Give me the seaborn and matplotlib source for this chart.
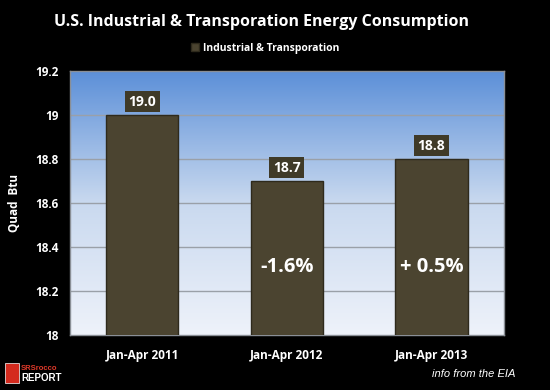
import matplotlib
matplotlib.use("Agg")
import matplotlib.pyplot as plt
import seaborn as sns
import numpy as np
import pandas as pd
from matplotlib.patches import Rectangle
from matplotlib.colors import LinearSegmentedColormap

categories = ["Jan-Apr 2011", "Jan-Apr 2012", "Jan-Apr 2013"]
values = [19.0, 18.7, 18.8]
value_labels = ["19.0", "18.7", "18.8"]
change_labels = ["", "-1.6%", "+ 0.5%"]
yticks = [18, 18.2, 18.4, 18.6, 18.8, 19, 19.2]
ytick_labels = ["18", "18.2", "18.4", "18.6", "18.8", "19", "19.2"]
series_name = "Industrial & Transporation"

sns.set_theme(style="white")
plt.rcParams['font.family'] = ['Open Sans', 'DejaVu Sans']

df = pd.DataFrame({"period": categories, "value": values})

fig = plt.figure(figsize=(5.5, 3.9), dpi=100, facecolor="black")
ax = fig.add_axes([0.127, 0.141, 0.789, 0.677])
ax.set_facecolor("white")

# gradient background
grad = np.linspace(0, 1, 256).reshape(-1, 1)
cmap = LinearSegmentedColormap.from_list("bg", ["#eef2fa", "#c9d9ef", "#5b8fd8"])
ax.imshow(grad, aspect="auto", cmap=cmap, origin="lower",
          extent=[0, 1, 0, 1], transform=ax.transAxes, zorder=0)

bar_color = "#4b4430"
sns.barplot(data=df, x="period", y="value", ax=ax, color=bar_color,
            width=0.5, saturation=1, edgecolor="#2e2a1c", linewidth=1, zorder=3,
            label=series_name)

ax.set_ylim(18, 19.2)
ax.set_xlim(-0.5, 2.5)
ax.set_yticks(yticks)
ax.set_yticklabels(ytick_labels)
for y in yticks[1:-1]:
    ax.axhline(y, color="#9aa0a8", lw=1, zorder=1)

for i, (v, lab) in enumerate(zip(values, value_labels)):
    ax.text(i, v + 0.06, lab, ha="center", va="center", color="white",
            fontsize=10, fontweight="bold", zorder=5,
            bbox=dict(boxstyle="square,pad=0.25", fc="#3f3a28", ec="none"))
for i, lab in enumerate(change_labels):
    if lab:
        ax.text(i, 18.31, lab, ha="center", va="center", color="white",
                fontsize=14.5, fontweight="bold", zorder=5)

for s in ax.spines.values():
    s.set_color("#8a8f96")
    s.set_linewidth(1)

ax.tick_params(axis="both", colors="white", length=0, labelsize=8.5)
for t in ax.get_xticklabels() + ax.get_yticklabels():
    t.set_fontweight("bold")
    t.set_color("white")
ax.tick_params(axis="x", pad=10)
ax.tick_params(axis="y", pad=8)
ax.set_xlabel("")
ax.set_ylabel("Quad  Btu", color="white", fontsize=8.5, fontweight="bold", labelpad=10)

fig.text(0.475, 0.944, "U.S. Industrial & Transporation Energy Consumption",
         ha="center", va="center", color="white", fontsize=11.5, fontweight="bold")

leg = ax.legend(loc="lower center", bbox_to_anchor=(0.45, 1.03), frameon=False,
                handlelength=0.7, handleheight=0.7, handletextpad=0.4,
                prop={"weight": "bold", "size": 7.5})
for t in leg.get_texts():
    t.set_color("white")

fig.text(0.937, 0.04, "info from the EIA", ha="right", va="center",
         color="white", fontsize=8, style="italic", family="Liberation Sans")

# logo-like mark
fig.patches.append(Rectangle((0.009, 0.018), 0.025, 0.05, transform=fig.transFigure,
                             facecolor="#d42a1e", edgecolor="white", lw=0.5))
fig.text(0.038, 0.056, "SRSrocco", ha="left", va="center", color="#e03a2a",
         fontsize=5.5, fontweight="bold", family="Liberation Sans")
fig.text(0.038, 0.031, "REPORT", ha="left", va="center", color="white",
         fontsize=7, fontweight="bold", family="Liberation Sans")

fig.savefig("out.png", dpi=100, facecolor="black")
